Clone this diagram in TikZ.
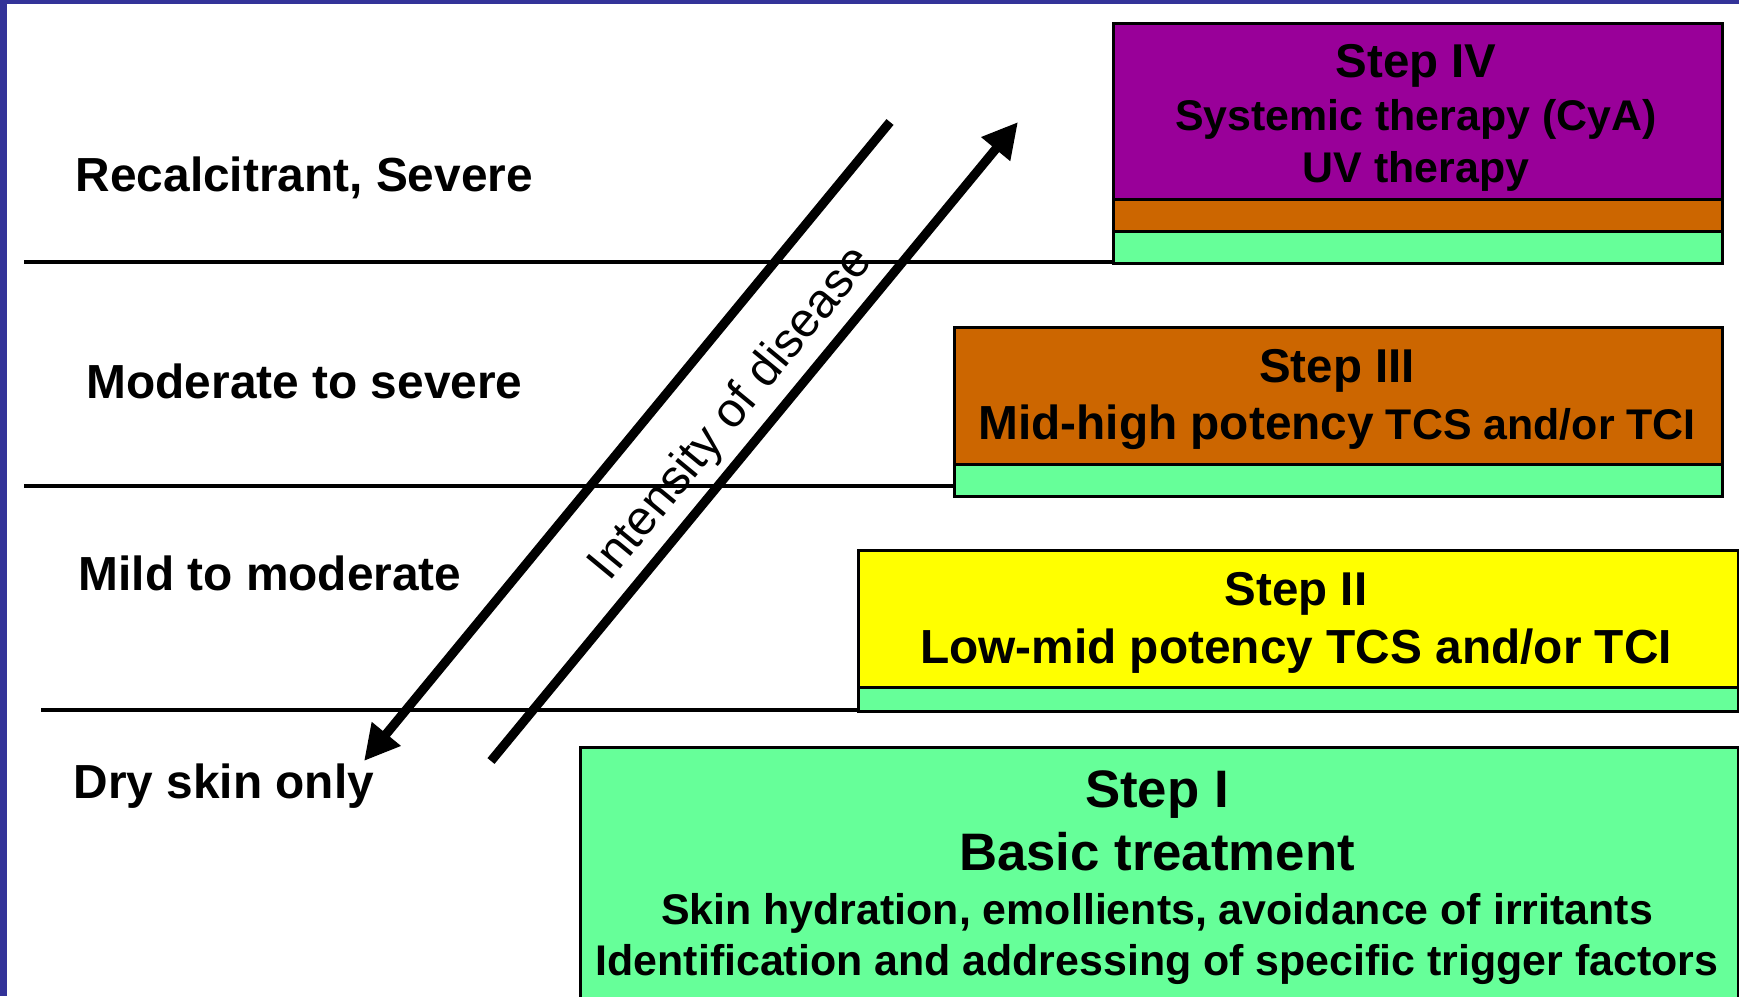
\documentclass[tikz,border=0pt]{standalone}
\usepackage{fontspec}
\setmainfont{Liberation Sans}
\usetikzlibrary{arrows.meta,positioning}
\definecolor{Frame}{HTML}{333399}
\definecolor{Plum}{HTML}{990099}
\definecolor{Rust}{HTML}{CC6600}
\definecolor{Mint}{HTML}{66FF99}
\definecolor{Lemon}{HTML}{FFFF00}
\tikzset{tier/.style={draw=black,line width=.8pt,anchor=north west,inner sep=0pt,minimum height=.32cm},level/.style={anchor=base west,inner sep=0pt,font=\bfseries\fontsize{13.6}{16}\selectfont},head/.style={anchor=base,inner sep=0pt,font=\bfseries\fontsize{13.5}{16}\selectfont},body/.style={anchor=base,inner sep=0pt,font=\bfseries\fontsize{12.2}{14}\selectfont},sep/.style={line width=.9pt},trend/.style={line width=2.6pt,-{Triangle[length=10pt,width=10pt]}}}
\begin{document}
\begin{tikzpicture}[x=0.01cm,y=-0.01cm]
      \useasboundingbox (0,0) rectangle (1739,996);
      \fill[Frame](0,0) rectangle (7,996);
      \fill[Frame](0,0) rectangle (1739,4);
      % treatment steps
      \node[tier,fill=Plum,minimum width=6.09cm,minimum height=1.76cm](s4) at (1112,22){};
      \node[tier,fill=Rust,minimum width=6.09cm](s4mid) at (1112,198){};
      \node[tier,fill=Mint,minimum width=6.09cm](s4low) at (1112,230){};
      \node[tier,fill=Rust,minimum width=7.68cm,minimum height=1.37cm](s3) at (953,326){};
      \node[tier,fill=Mint,minimum width=7.68cm](s3low) at (953,463){};
      \node[tier,fill=Lemon,minimum width=8.79cm,minimum height=1.37cm](s2) at (857,549){};
      \node[tier,fill=Mint,minimum width=8.79cm,minimum height=.24cm](s2low) at (857,686){};
      \node[tier,fill=Mint,minimum width=11.57cm,minimum height=2.7cm](s1) at (579,746){};
      \node[head](t4a) at (1416,77){Step IV};
      \node[body](t4b) at (1416,130){Systemic therapy (CyA)};
      \node[body](t4c) at (1416,182){UV therapy};
      \node[head](t3a) at (1337,382){Step III};
      \node[body](t3b) at (1337,439){{\fontsize{13.6}{16}\selectfont Mid-high potency} TCS and/or TCI};
      \node[head](t2a) at (1296,605){Step II};
      \node[body,font=\bfseries\fontsize{13.6}{16}\selectfont](t2b) at (1296,663){Low-mid potency TCS and/or TCI};
      \node[head,font=\bfseries\fontsize{15}{18}\selectfont](t1a) at (1157,807){Step I};
      \node[head,font=\bfseries\fontsize{15}{18}\selectfont](t1b) at (1157,870){Basic treatment};
      \node[body](t1c) at (1157,924){Skin hydration, emollients, avoidance of irritants};
      \node[body](t1d) at (1157,975){Identification and addressing of specific trigger factors};
      % severity levels
      \node[level](lv4) at (75,191){Recalcitrant, Severe};
      \node[level](lv3) at (86,398){Moderate to severe};
      \node[level](lv2) at (78,590){Mild to moderate};
      \node[level](lv1) at (73,798){Dry skin only};
      \coordinate(l1) at (24,262);\coordinate(l2) at (24,486);\coordinate(l3) at (41,710);
      \draw[sep](l1)--(l1 -| s4low.west);
      \draw[sep](l2)--(l2 -| s3low.west);
      \draw[sep](l3)--(l3 -| s2low.west);
      % intensity arrows
      \coordinate(dn0) at (890,122);\coordinate(dn1) at (364,761);
      \coordinate(up0) at (491,761);\coordinate(up1) at (1018,122);
      \draw[trend](dn0)--(dn1);
      \draw[trend](up0)--(up1);
      \node[rotate=50.5,font=\fontsize{13.8}{16}\selectfont](ints) at (732,414){Intensity of disease};
    \end{tikzpicture}
\end{document}
